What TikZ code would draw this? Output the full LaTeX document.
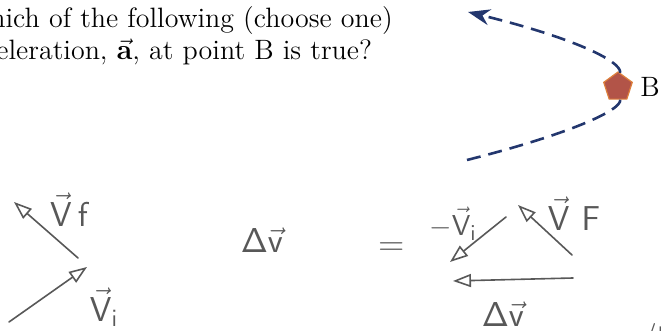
\documentclass[tikz,border=0pt]{standalone}
\usetikzlibrary{arrows.meta,shapes.geometric}

\definecolor{pathblue}{RGB}{35,55,110}
\definecolor{dotred}{RGB}{178,84,72}
\definecolor{dotrim}{RGB}{222,128,60}
\definecolor{pencil}{RGB}{88,88,88}

\begin{document}
\begin{tikzpicture}[x=0.5pt,y=-0.5pt,
	traj/.style={pathblue,line width=1.3pt,dash pattern=on 7pt off 4pt},
	hand/.style={pencil,line width=0.8pt,line cap=round,-{Triangle[open,length=9pt,width=6.5pt]}},
	handlbl/.style={pencil,inner sep=0pt,font=\sffamily\fontsize{18}{20}\selectfont},
	qtext/.style={anchor=base west,inner sep=0pt,font=\fontsize{14}{16}\selectfont}]
	\useasboundingbox (0,0) rectangle (661,331);
	
	% question text, cut at the left
	\node[qtext] (qline1) at (-10,28) {hich of the following (choose one)};
	\node[qtext] (qline2) at (-4,60) {eleration, $\vec{\mathbf{a}}$, at point B is true?};
	
	% path through B
	\node[regular polygon,regular polygon sides=5,fill=dotred,draw=dotrim,line width=0.6pt,minimum size=15pt,inner sep=0pt] (B) at (618,87) {};
	\node[anchor=west,inner sep=0pt,font=\fontsize{14}{16}\selectfont] (Blbl) at (640,87) {B};
	\coordinate (trajstart) at (467,160);
	\coordinate (trajend) at (468,12);
	\draw[traj] (trajstart) .. controls (570,134) and (622,110) .. (B);
	\draw[traj,-{Stealth[length=11pt,width=8pt]}] (B) .. controls (622,61) and (571,37) .. (trajend);
	
	% v_i and v_f
	\coordinate (vftail) at (78,258);
	\coordinate (vfhead) at (14,202);
	\coordinate (vitail) at (9,322);
	\coordinate (vihead) at (87,267);
	\draw[hand] (vftail) -- (vfhead);
	\draw[hand] (vitail) -- (vihead);
	\node[handlbl] (vflbl) at (70,210) {$\vec{\mathsf{V}}\,\mathsf{f}$};
	\node[handlbl] (vilbl) at (104,307) {$\vec{\mathsf{V}}_{\mathsf{i}}$};
	
	\node[handlbl] (dvlbl) at (262,240) {$\mathsf{\Delta}\vec{\mathsf{v}}$};
	\node[handlbl] (eqlbl) at (392,249) {=};
	
	% triangle of vectors
	\coordinate (mvitail) at (506,217);
	\coordinate (mvihead) at (450,262);
	\coordinate (vFtail) at (572,255);
	\coordinate (vFhead) at (518,205);
	\coordinate (dvtail) at (573,278);
	\coordinate (dvhead) at (453,281);
	\draw[hand] (mvitail) -- (mvihead);
	\draw[hand] (vFtail) -- (vFhead);
	\draw[hand] (dvtail) -- (dvhead);
	\node[handlbl,font=\sffamily\fontsize{15}{17}\selectfont] (mvilbl) at (453,224) {$-\vec{\mathsf{V}}_{\mathsf{i}}$};
	\node[handlbl] (vFlbl) at (574,214) {$\vec{\mathsf{V}}\,\,\mathsf{F}$};
	\node[handlbl] (dvlbl2) at (503,314) {$\mathsf{\Delta}\vec{\mathsf{v}}$};
	
	\node[handlbl,anchor=north west] (score) at (640,323) {/5};
\end{tikzpicture}
\end{document}
